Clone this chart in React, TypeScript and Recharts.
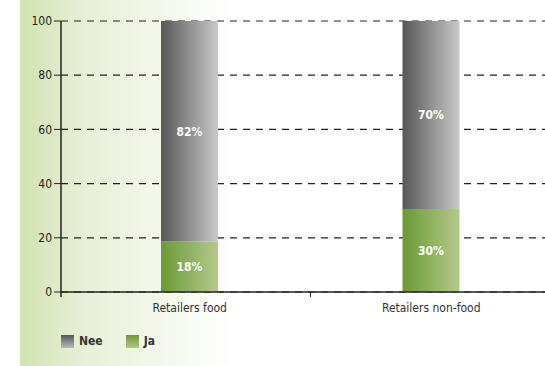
import React from 'react';
import { BarChart, Bar, XAxis, YAxis, CartesianGrid, Legend, LabelList } from 'recharts';

const categories = ['Retailers food', 'Retailers non-food'];
const jaValues = [18.6, 30.6];
const neeValues = [81.4, 69.4];
const jaLabels = ['18%', '30%'];
const neeLabels = ['82%', '70%'];
const yTicks = [0, 20, 40, 60, 80, 100];
const seriesNames = { nee: 'Nee', ja: 'Ja' };

const data = categories.map((c, i) => ({
  name: c,
  ja: jaValues[i],
  nee: neeValues[i],
  jaLabel: jaLabels[i],
  neeLabel: neeLabels[i],
}));

const FONT = '"DejaVu Sans Condensed", "Liberation Sans Narrow", "Liberation Sans", sans-serif';

const XTick = (props: any) => {
  const { x, y, payload, index } = props;
  const half = payload && payload.offset ? payload.offset : 0;
  return (
    <g>
      {index === 0 && half ? (
        <>
          <line x1={x + half} x2={x + half} y1={y - 8} y2={y - 3} stroke="#222" strokeWidth={1} />
          <line x1={x - half - 8} x2={x - half - 8} y1={y - 8} y2={y - 3} stroke="#222" strokeWidth={1.5} />
        </>
      ) : null}
      <text x={x} y={y + 12} textAnchor="middle" fill="#333" fontSize={12} fontFamily={FONT}>
        {payload.value}
      </text>
    </g>
  );
};

const LegendContent = () => (
  <div style={{ display: 'flex', alignItems: 'center', fontFamily: FONT, fontSize: 12, fontWeight: 'bold', color: '#333' }}>
    <span style={{ display: 'inline-block', width: 13, height: 13, background: 'linear-gradient(to bottom, #555, #bbb)', marginRight: 5 }} />
    <span style={{ marginRight: 23 }}>{seriesNames.nee}</span>
    <span style={{ display: 'inline-block', width: 13, height: 13, background: 'linear-gradient(to bottom, #6f9a38, #b2c786)', marginRight: 5 }} />
    <span>{seriesNames.ja}</span>
  </div>
);

export default function App() {
  return (
    <div style={{ position: 'absolute', left: 0, top: 0, width: 545, height: 366, overflow: 'hidden', background: '#fff' }}>
      <div
        style={{
          position: 'absolute',
          left: 20,
          top: 0,
          width: 525,
          height: 366,
          background: 'linear-gradient(to right, #d2e2b1 0px, #e6efd6 60px, #f4f8ec 140px, #ffffff 215px)',
        }}
      />
      <div style={{ position: 'absolute', left: 0, top: 0 }}>
        <BarChart
          width={561}
          height={366}
          data={data}
          margin={{ top: 21, right: 9, left: 0, bottom: 28 }}
          barSize={57}
        >
          <defs>
            <linearGradient id="gNee" x1="0" y1="0" x2="1" y2="0">
              <stop offset="0%" stopColor="#575757" />
              <stop offset="100%" stopColor="#c9c9c9" />
            </linearGradient>
            <linearGradient id="gJa" x1="0" y1="0" x2="1" y2="0">
              <stop offset="0%" stopColor="#6b9a36" />
              <stop offset="100%" stopColor="#b5c98c" />
            </linearGradient>
          </defs>
          <CartesianGrid vertical={false} strokeDasharray="7 6" stroke="#222" strokeWidth={1.2} />
          <XAxis
            dataKey="name"
            axisLine={{ stroke: '#222', strokeWidth: 1.5 }}
            tickLine={false}
            tick={<XTick />}
            height={30}
            interval={0}
            padding={{ left: 8, right: 0 }}
          />
          <YAxis
            domain={[0, 100]}
            ticks={yTicks}
            width={61}
            axisLine={{ stroke: '#222', strokeWidth: 1.5 }}
            tickLine={{ stroke: '#222' }}
            tickSize={7}
            tick={{ fill: '#222', fontSize: 12, fontFamily: FONT }}
            allowDataOverflow
          />
          <Legend
            content={<LegendContent />}
            wrapperStyle={{ position: 'absolute', left: 61, top: 334, width: 200, height: 16 }}
          />
          <Bar dataKey="ja" stackId="s" fill="url(#gJa)" isAnimationActive={false}>
            <LabelList dataKey="jaLabel" position="center" fill="#fff" fontSize={12} fontWeight="bold" fontFamily={FONT} />
          </Bar>
          <Bar dataKey="nee" stackId="s" fill="url(#gNee)" isAnimationActive={false}>
            <LabelList dataKey="neeLabel" position="center" fill="#fff" fontSize={12} fontWeight="bold" fontFamily={FONT} />
          </Bar>
        </BarChart>
      </div>
    </div>
  );
}
